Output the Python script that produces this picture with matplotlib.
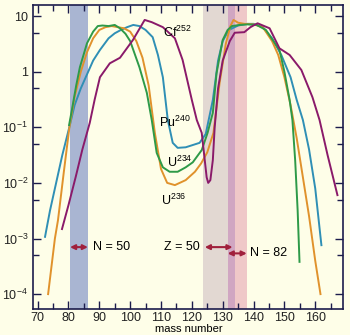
import matplotlib
matplotlib.use('Agg')
import matplotlib.pyplot as plt
from matplotlib.ticker import FixedLocator, MultipleLocator

plt.rcParams['font.family'] = ['Liberation Sans', 'DejaVu Sans']
plt.rcParams['mathtext.fontset'] = 'custom'
plt.rcParams['mathtext.rm'] = 'Liberation Sans'
plt.rcParams['mathtext.it'] = 'Liberation Sans:italic'

# yield curves (mass number, log10 of yield in %)
u236_mass = [73.4, 75.6, 76.6, 78.5, 80.3, 82, 84, 86, 88, 90, 92, 94, 96, 98, 100, 102, 104, 106, 108, 110,
             112, 114.5, 118, 121, 123, 125, 127, 129, 131, 132.5, 133.5, 135, 137, 140, 143, 146, 148, 150,
             152, 154, 156, 158, 160, 161.7]
u236_log = [-4.0, -3.0, -2.67, -1.8, -1.0, -0.45, 0.0, 0.35, 0.6, 0.75, 0.8, 0.82, 0.8, 0.78, 0.72, 0.55, 0.25,
            -0.25, -1.1, -1.75, -2.0, -2.04, -1.95, -1.8, -1.65, -1.45, -1.1, -0.2, 0.5, 0.82, 0.93, 0.88, 0.86,
            0.85, 0.8, 0.55, 0.3, -0.1, -0.6, -1.2, -1.9, -2.6, -3.4, -4.0]

u234_mass = [80.2, 81.1, 82.5, 83.7, 86, 88, 89.5, 91, 93, 95, 96.7, 98.5, 100, 103, 105.4, 107, 108.6, 110.6,
             112.8, 115.4, 118, 120.3, 123.2, 125.1, 126.8, 128, 130, 131.6, 133, 135.5, 138, 141, 144, 148.4,
             150, 151.7, 152.6, 153.5, 154.3, 154.9]
u234_log = [-0.96, -0.69, -0.25, 0.08, 0.51, 0.72, 0.82, 0.83, 0.82, 0.84, 0.78, 0.68, 0.55, 0.08, -0.38,
            -0.87, -1.46, -1.72, -1.8, -1.8, -1.72, -1.63, -1.41, -1.1, -0.74, -0.03, 0.57, 0.75, 0.82, 0.84,
            0.85, 0.84, 0.75, 0.39, 0.0, -0.51, -0.87, -1.6, -2.5, -3.42]

pu240_mass = [72.4, 74, 76, 78, 80.5, 82, 84, 86, 88, 90.2, 93, 95, 97, 99, 101, 103, 105, 107.3, 109, 110.6,
              112.2, 113.8, 115.4, 118, 122.5, 124.5, 126.8, 128.5, 130, 132, 135, 138, 140, 143, 146, 149,
              152, 154, 156, 158, 160, 162]
pu240_log = [-2.97, -2.5, -2.0, -1.5, -0.95, -0.6, -0.3, -0.05, 0.2, 0.39, 0.6, 0.69, 0.75, 0.8, 0.84, 0.82,
             0.75, 0.62, 0.3, -0.1, -0.87, -1.28, -1.37, -1.36, -1.28, -1.12, -0.51, 0.2, 0.55, 0.75, 0.83,
             0.86, 0.86, 0.8, 0.6, 0.3, -0.1, -0.51, -0.87, -1.4, -2.1, -3.12]

cf252_mass = [77.9, 80, 82.4, 84.5, 86.9, 88.5, 90.2, 93.4, 96.7, 100.9, 104.7, 107, 110.6, 114.5, 117, 120,
              121.6, 123.2, 124.2, 124.8, 125.3, 126, 126.8, 127.4, 128.5, 130, 132.3, 133.9, 137, 139, 141.3,
              145.2, 148.4, 151.7, 155.5, 159.1, 161.4, 164, 167.2]
cf252_log = [-2.83, -2.4, -1.88, -1.4, -0.92, -0.5, -0.1, 0.15, 0.25, 0.57, 0.93, 0.89, 0.8, 0.6, 0.21, -0.51,
             -0.87, -1.1, -1.6, -1.9, -2.0, -1.95, -1.59, -1.0, -0.3, 0.2, 0.55, 0.7, 0.71, 0.8, 0.87, 0.78,
             0.42, 0.3, 0.03, -0.46, -0.87, -1.5, -2.22]

# shell closure bands (mass ranges)
n50_band = [80.5, 86.3]
z50_band = [123.5, 131.6]
overlap_band = [131.6, 133.9]
n82_band = [133.9, 137.8]

bg = '#fefee8'
fig = plt.figure(figsize=(3.5, 3.35), dpi=100, facecolor=bg)
ax = fig.add_axes([33/350, 1-309/335, 310/350, 304/335], facecolor=bg)

ax.axvspan(*n50_band, color='#a9b5d2', lw=0, zorder=0)
ax.axvspan(*z50_band, color='#e2d8d2', lw=0, zorder=0)
ax.axvspan(*overlap_band, color='#d0a6c2', lw=0, zorder=0)
ax.axvspan(*n82_band, color='#efc8c8', lw=0, zorder=0)

def yl(v):
    return [10 ** x for x in v]

lw = 1.4
ax.plot(pu240_mass, yl(pu240_log), color='#2f8fb5', lw=lw)
ax.plot(u236_mass, yl(u236_log), color='#e0922c', lw=lw)
ax.plot(u234_mass, yl(u234_log), color='#2e9a48', lw=lw)
ax.plot(cf252_mass, yl(cf252_log), color='#8a1a6a', lw=lw)

ax.set_yscale('log')
ax.set_xlim(68.5, 169)
ax.set_ylim(5.4e-5, 15.8)

ax.xaxis.set_major_locator(MultipleLocator(10))
ax.xaxis.set_minor_locator(MultipleLocator(5))
ax.yaxis.set_major_locator(FixedLocator([1e-4, 1e-3, 1e-2, 1e-1, 1, 10]))
ax.yaxis.set_minor_locator(FixedLocator([5e-5, 5e-4, 5e-3, 5e-2, 0.5, 5]))
ax.set_yticklabels([r'$10^{-4}$', r'$10^{-3}$', r'$10^{-2}$', r'$10^{-1}$', '1', '10'])

navy = '#1c1c4c'
for s in ax.spines.values():
    s.set_color(navy)
    s.set_linewidth(1.2)
ax.tick_params(which='both', direction='in', top=True, right=True, colors=navy, labelcolor='#222222',
               labelsize=9)
ax.tick_params(which='major', length=6, width=1)
ax.tick_params(which='minor', length=4, width=1)
ax.tick_params(axis='x', pad=2.5)

fs = 9
ax.text(110.5, 10 ** 0.7, r'Cf$^{252}$', fontsize=fs, va='center')
ax.text(109.4, 10 ** -0.91, r'Pu$^{240}$', fontsize=fs, va='center')
ax.text(112.0, 10 ** -1.63, r'U$^{234}$', fontsize=fs, va='center')
ax.text(110.0, 10 ** -2.31, r'U$^{236}$', fontsize=fs, va='center')

arrow = dict(arrowstyle='<|-|>', color='#a0203c', lw=1.5, mutation_scale=7, shrinkA=0, shrinkB=0)
ax.annotate('', xy=(80.5, 7e-4), xytext=(86.3, 7e-4), arrowprops=arrow)
ax.text(88.0, 7e-4, 'N = 50', fontsize=fs, va='center')
ax.annotate('', xy=(124.2, 7e-4), xytext=(133.2, 7e-4), arrowprops=arrow)
ax.text(122.5, 7e-4, 'Z = 50', fontsize=fs, va='center', ha='right')
ax.annotate('', xy=(131.6, 5.4e-4), xytext=(137.8, 5.4e-4), arrowprops=arrow)
ax.text(138.8, 5.4e-4, 'N = 82', fontsize=fs, va='center')

fig.text(189/350, 0.5/335, 'mass number', fontsize=8, ha='center', va='bottom')

fig.savefig('out.png', dpi=100, facecolor=bg)
